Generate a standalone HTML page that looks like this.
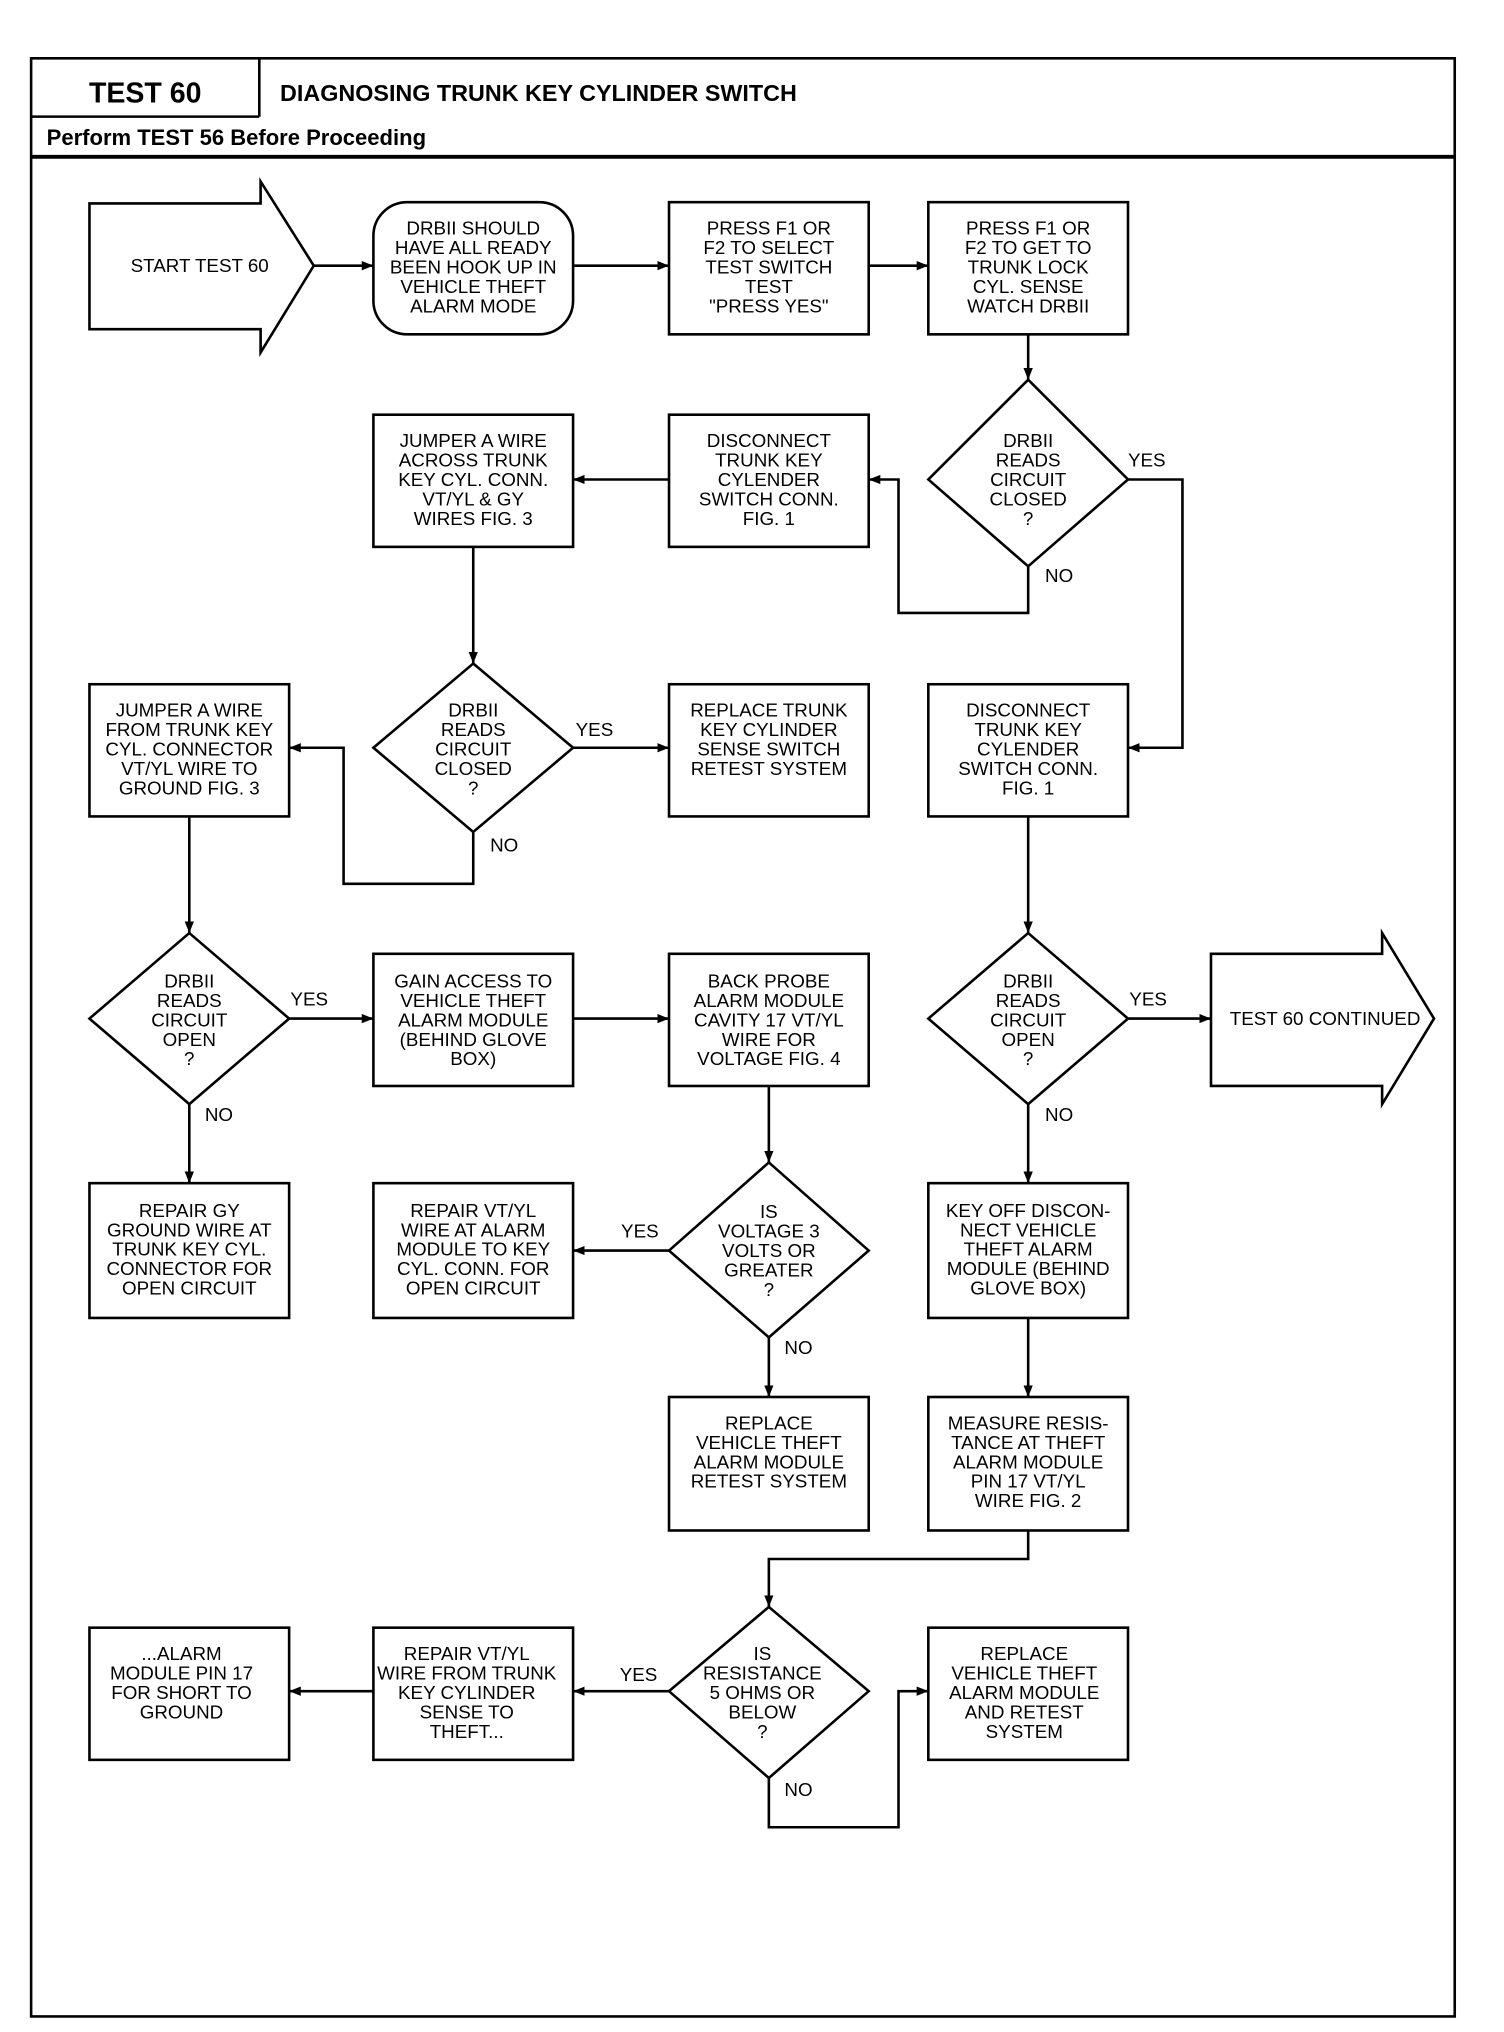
<!DOCTYPE html>
<html><head><meta charset="utf-8"><style>
html,body{margin:0;padding:0;background:#fff;}
svg{display:block;}
text{font-family:"Liberation Sans Narrow","Liberation Sans",sans-serif;fill:#000;}
.t{font-size:14.5px;text-anchor:middle;}
.l{font-size:14.5px;}
</style></head><body>
<svg width="1504" height="2032" viewBox="0 0 1160 1568" preserveAspectRatio="none" xmlns="http://www.w3.org/2000/svg">
<defs><marker id="a" viewBox="0 0 10 10" refX="10" refY="5" markerWidth="9" markerHeight="9" markerUnits="userSpaceOnUse" orient="auto"><path d="M0,1 L10,5 L0,9 z" fill="#000"/></marker></defs>
<rect width="1160" height="1568" fill="#fff"/>
<g fill="none" stroke="#000" stroke-width="2">
<rect x="24" y="45" width="1098" height="1511"/>
<line x1="200" y1="45" x2="200" y2="90"/>
<line x1="24" y1="90" x2="200" y2="90"/>
<line x1="24" y1="121" x2="1122" y2="121" stroke-width="3"/>
<!-- start arrow -->
<path d="M69,157 H201 V140 L242,205 L201,272 V254 H69 Z"/>
<rect x="288" y="156" width="154" height="102" rx="26"/>
<rect x="516" y="156" width="154" height="102"/>
<rect x="716" y="156" width="154" height="102"/>
<rect x="516" y="320" width="154" height="102"/>
<rect x="288" y="320" width="154" height="102"/>
<rect x="69" y="528" width="154" height="102"/>
<rect x="516" y="528" width="154" height="102"/>
<rect x="716" y="528" width="154" height="102"/>
<rect x="288" y="736" width="154" height="102"/>
<rect x="516" y="736" width="154" height="102"/>
<path d="M934,736 H1066 V720 L1106,786 L1066,852 V838 H934 Z"/>
<rect x="69" y="913" width="154" height="104"/>
<rect x="288" y="913" width="154" height="104"/>
<rect x="716" y="913" width="154" height="104"/>
<rect x="516" y="1078" width="154" height="103"/>
<rect x="716" y="1078" width="154" height="103"/>
<rect x="69" y="1256" width="154" height="102"/>
<rect x="288" y="1256" width="154" height="102"/>
<rect x="716" y="1256" width="154" height="102"/>
<!-- diamonds -->
<path d="M793,293 L870,370 L793,437 L716,370 Z"/>
<path d="M365,512 L442,577 L365,642 L288,577 Z"/>
<path d="M146,720 L223,786 L146,852 L69,786 Z"/>
<path d="M793,720 L870,786 L793,852 L716,786 Z"/>
<path d="M593,897 L670,965 L593,1032 L516,965 Z"/>
<path d="M593,1240 L670,1305 L593,1372 L516,1305 Z"/>
</g>
<g fill="none" stroke="#000" stroke-width="2" marker-end="url(#a)">
<line x1="242" y1="205" x2="288" y2="205"/>
<line x1="442" y1="205" x2="516" y2="205"/>
<line x1="670" y1="205" x2="716" y2="205"/>
<line x1="793" y1="258" x2="793" y2="293"/>
<polyline points="870,370 912,370 912,577 870,577"/>
<polyline points="793,437 793,473 693,473 693,370 670,370"/>
<line x1="516" y1="370" x2="442" y2="370"/>
<line x1="365" y1="422" x2="365" y2="512"/>
<line x1="442" y1="577" x2="516" y2="577"/>
<polyline points="365,642 365,682 265,682 265,577 223,577"/>
<line x1="146" y1="630" x2="146" y2="720"/>
<line x1="793" y1="630" x2="793" y2="720"/>
<line x1="223" y1="786" x2="288" y2="786"/>
<line x1="442" y1="786" x2="516" y2="786"/>
<line x1="870" y1="786" x2="934" y2="786"/>
<line x1="146" y1="852" x2="146" y2="913"/>
<line x1="793" y1="852" x2="793" y2="913"/>
<line x1="593" y1="838" x2="593" y2="897"/>
<line x1="516" y1="965" x2="442" y2="965"/>
<line x1="593" y1="1032" x2="593" y2="1078"/>
<line x1="793" y1="1017" x2="793" y2="1078"/>
<polyline points="793,1181 793,1203 593,1203 593,1240"/>
<line x1="516" y1="1305" x2="442" y2="1305"/>
<line x1="288" y1="1305" x2="223" y2="1305"/>
<polyline points="593,1372 593,1410 693,1410 693,1305 716,1305"/>
</g>
<text x="112" y="79" style="font-family:'Liberation Sans',sans-serif;font-weight:bold;font-size:22px;text-anchor:middle">TEST 60</text>
<text x="216" y="78" style="font-family:'Liberation Sans',sans-serif;font-weight:bold;font-size:18px">DIAGNOSING TRUNK KEY CYLINDER SWITCH</text>
<text x="36" y="112" style="font-family:'Liberation Sans',sans-serif;font-weight:bold;font-size:17px">Perform TEST 56 Before Proceeding</text>

<text class="t" x="154" y="210">START TEST 60</text>
<text class="t" x="365" y="181"><tspan x="365">DRBII SHOULD</tspan><tspan x="365" dy="15">HAVE ALL READY</tspan><tspan x="365" dy="15">BEEN HOOK UP IN</tspan><tspan x="365" dy="15">VEHICLE THEFT</tspan><tspan x="365" dy="15">ALARM MODE</tspan></text>
<text class="t" x="593" y="181"><tspan x="593">PRESS F1 OR</tspan><tspan x="593" dy="15">F2 TO SELECT</tspan><tspan x="593" dy="15">TEST SWITCH</tspan><tspan x="593" dy="15">TEST</tspan><tspan x="593" dy="15">"PRESS YES"</tspan></text>
<text class="t" x="793" y="181"><tspan x="793">PRESS F1 OR</tspan><tspan x="793" dy="15">F2 TO GET TO</tspan><tspan x="793" dy="15">TRUNK LOCK</tspan><tspan x="793" dy="15">CYL. SENSE</tspan><tspan x="793" dy="15">WATCH DRBII</tspan></text>
<text class="t" x="793" y="345"><tspan x="793">DRBII</tspan><tspan x="793" dy="15">READS</tspan><tspan x="793" dy="15">CIRCUIT</tspan><tspan x="793" dy="15">CLOSED</tspan><tspan x="793" dy="15">?</tspan></text>
<text class="t" x="593" y="345"><tspan x="593">DISCONNECT</tspan><tspan x="593" dy="15">TRUNK KEY</tspan><tspan x="593" dy="15">CYLENDER</tspan><tspan x="593" dy="15">SWITCH CONN.</tspan><tspan x="593" dy="15">FIG. 1</tspan></text>
<text class="t" x="365" y="345"><tspan x="365">JUMPER A WIRE</tspan><tspan x="365" dy="15">ACROSS TRUNK</tspan><tspan x="365" dy="15">KEY CYL. CONN.</tspan><tspan x="365" dy="15">VT/YL &amp; GY</tspan><tspan x="365" dy="15">WIRES FIG. 3</tspan></text>
<text class="l" x="870" y="360">YES</text>
<text class="l" x="806" y="449">NO</text>
<text class="t" x="365" y="553"><tspan x="365">DRBII</tspan><tspan x="365" dy="15">READS</tspan><tspan x="365" dy="15">CIRCUIT</tspan><tspan x="365" dy="15">CLOSED</tspan><tspan x="365" dy="15">?</tspan></text>
<text class="t" x="146" y="553"><tspan x="146">JUMPER A WIRE</tspan><tspan x="146" dy="15">FROM TRUNK KEY</tspan><tspan x="146" dy="15">CYL. CONNECTOR</tspan><tspan x="146" dy="15">VT/YL WIRE TO</tspan><tspan x="146" dy="15">GROUND FIG. 3</tspan></text>
<text class="t" x="593" y="553"><tspan x="593">REPLACE TRUNK</tspan><tspan x="593" dy="15">KEY CYLINDER</tspan><tspan x="593" dy="15">SENSE SWITCH</tspan><tspan x="593" dy="15">RETEST SYSTEM</tspan></text>
<text class="t" x="793" y="553"><tspan x="793">DISCONNECT</tspan><tspan x="793" dy="15">TRUNK KEY</tspan><tspan x="793" dy="15">CYLENDER</tspan><tspan x="793" dy="15">SWITCH CONN.</tspan><tspan x="793" dy="15">FIG. 1</tspan></text>
<text class="l" x="444" y="568">YES</text>
<text class="l" x="378" y="657">NO</text>
<text class="t" x="146" y="762"><tspan x="146">DRBII</tspan><tspan x="146" dy="15">READS</tspan><tspan x="146" dy="15">CIRCUIT</tspan><tspan x="146" dy="15">OPEN</tspan><tspan x="146" dy="15">?</tspan></text>
<text class="t" x="365" y="762"><tspan x="365">GAIN ACCESS TO</tspan><tspan x="365" dy="15">VEHICLE THEFT</tspan><tspan x="365" dy="15">ALARM MODULE</tspan><tspan x="365" dy="15">(BEHIND GLOVE</tspan><tspan x="365" dy="15">BOX)</tspan></text>
<text class="t" x="593" y="762"><tspan x="593">BACK PROBE</tspan><tspan x="593" dy="15">ALARM MODULE</tspan><tspan x="593" dy="15">CAVITY 17 VT/YL</tspan><tspan x="593" dy="15">WIRE FOR</tspan><tspan x="593" dy="15">VOLTAGE FIG. 4</tspan></text>
<text class="t" x="793" y="762"><tspan x="793">DRBII</tspan><tspan x="793" dy="15">READS</tspan><tspan x="793" dy="15">CIRCUIT</tspan><tspan x="793" dy="15">OPEN</tspan><tspan x="793" dy="15">?</tspan></text>
<text class="t" x="1022" y="791">TEST 60 CONTINUED</text>
<text class="l" x="224" y="776">YES</text>
<text class="l" x="871" y="776">YES</text>
<text class="l" x="158" y="865">NO</text>
<text class="l" x="806" y="865">NO</text>
<text class="t" x="146" y="939"><tspan x="146">REPAIR GY</tspan><tspan x="146" dy="15">GROUND WIRE AT</tspan><tspan x="146" dy="15">TRUNK KEY CYL.</tspan><tspan x="146" dy="15">CONNECTOR FOR</tspan><tspan x="146" dy="15">OPEN CIRCUIT</tspan></text>
<text class="t" x="365" y="939"><tspan x="365">REPAIR VT/YL</tspan><tspan x="365" dy="15">WIRE AT ALARM</tspan><tspan x="365" dy="15">MODULE TO KEY</tspan><tspan x="365" dy="15">CYL. CONN. FOR</tspan><tspan x="365" dy="15">OPEN CIRCUIT</tspan></text>
<text class="t" x="593" y="940"><tspan x="593">IS</tspan><tspan x="593" dy="15">VOLTAGE 3</tspan><tspan x="593" dy="15">VOLTS OR</tspan><tspan x="593" dy="15">GREATER</tspan><tspan x="593" dy="15">?</tspan></text>
<text class="t" x="793" y="939"><tspan x="793">KEY OFF DISCON-</tspan><tspan x="793" dy="15">NECT VEHICLE</tspan><tspan x="793" dy="15">THEFT ALARM</tspan><tspan x="793" dy="15">MODULE (BEHIND</tspan><tspan x="793" dy="15">GLOVE BOX)</tspan></text>
<text class="l" x="479" y="955">YES</text>
<text class="l" x="605" y="1045">NO</text>
<text class="t" x="593" y="1103"><tspan x="593">REPLACE</tspan><tspan x="593" dy="15">VEHICLE THEFT</tspan><tspan x="593" dy="15">ALARM MODULE</tspan><tspan x="593" dy="15">RETEST SYSTEM</tspan></text>
<text class="t" x="793" y="1103"><tspan x="793">MEASURE RESIS-</tspan><tspan x="793" dy="15">TANCE AT THEFT</tspan><tspan x="793" dy="15">ALARM MODULE</tspan><tspan x="793" dy="15">PIN 17 VT/YL</tspan><tspan x="793" dy="15">WIRE FIG. 2</tspan></text>
<text class="t" x="140" y="1281"><tspan x="140">...ALARM</tspan><tspan x="140" dy="15">MODULE PIN 17</tspan><tspan x="140" dy="15">FOR SHORT TO</tspan><tspan x="140" dy="15">GROUND</tspan></text>
<text class="t" x="360" y="1281"><tspan x="360">REPAIR VT/YL</tspan><tspan x="360" dy="15">WIRE FROM TRUNK</tspan><tspan x="360" dy="15">KEY CYLINDER</tspan><tspan x="360" dy="15">SENSE TO</tspan><tspan x="360" dy="15">THEFT...</tspan></text>
<text class="t" x="588" y="1281"><tspan x="588">IS</tspan><tspan x="588" dy="15">RESISTANCE</tspan><tspan x="588" dy="15">5 OHMS OR</tspan><tspan x="588" dy="15">BELOW</tspan><tspan x="588" dy="15">?</tspan></text>
<text class="t" x="790" y="1281"><tspan x="790">REPLACE</tspan><tspan x="790" dy="15">VEHICLE THEFT</tspan><tspan x="790" dy="15">ALARM MODULE</tspan><tspan x="790" dy="15">AND RETEST</tspan><tspan x="790" dy="15">SYSTEM</tspan></text>
<text class="l" x="478" y="1297">YES</text>
<text class="l" x="605" y="1386">NO</text>
</svg>
</body></html>
